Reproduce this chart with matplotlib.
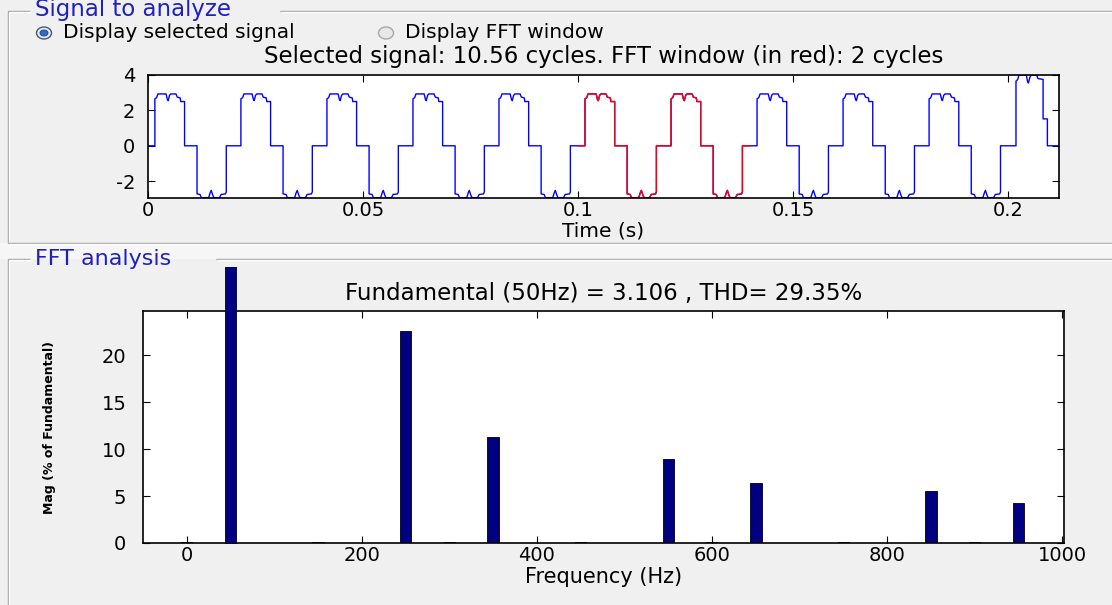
import numpy as np
import matplotlib
matplotlib.use("Agg")
import matplotlib.pyplot as plt
from matplotlib.patches import Ellipse, Rectangle
from matplotlib.transforms import Bbox, TransformedBbox

plt.rcParams['font.family'] = ['DejaVu Sans']
plt.rcParams['axes.unicode_minus'] = False

# ---- signal: one cycle (50 Hz), relative to cycle start ----
cycle_t = [0.0, 0.0016, 0.0016, 0.0020, 0.0023, 0.0042, 0.0045, 0.0047, 0.0050, 0.0053,
           0.0065, 0.0068, 0.0075, 0.0076, 0.0085, 0.0085,
           0.0114, 0.0114, 0.0121, 0.0124, 0.0141, 0.0145, 0.0147, 0.0150, 0.0153,
           0.0166, 0.0170, 0.0180, 0.0182, 0.0182, 0.0200]
cycle_v = [0.0, 0.0, 2.65, 2.72, 2.93, 2.93, 2.62, 2.55, 2.85, 2.93,
           2.93, 2.75, 2.70, 2.50, 2.50, 0.0,
           0.0, -2.72, -2.75, -2.93, -2.93, -2.62, -2.52, -2.75, -2.93,
           -2.93, -2.75, -2.72, -2.60, 0.0, 0.0]
cycle_starts = [0.0, 0.02, 0.04, 0.06, 0.08, 0.10, 0.12, 0.14, 0.16, 0.18]
red_starts = [0.10, 0.12]          # FFT window: 2 cycles

# last (partial) cycle has a larger amplitude
last_t = [0.2000, 0.2018, 0.2018, 0.2022, 0.2025, 0.2042, 0.2045, 0.2047, 0.2050, 0.2053,
          0.2066, 0.2069, 0.2081, 0.2081, 0.2091, 0.2091, 0.2118]
last_v = [0.0, 0.0, 3.65, 3.75, 4.0, 4.0, 3.62, 3.55, 3.85, 4.0,
          4.0, 3.80, 3.75, 1.52, 1.52, 0.0, 0.0]

# ---- FFT harmonics (% of fundamental) ----
harm_freq = [0, 50, 150, 250, 300, 350, 450, 550, 600, 650, 750, 850, 900, 950]
harm_mag = [0.1, 100, 0.15, 22.6, 0.12, 11.25, 0.12, 8.9, 0.12, 6.37, 0.12, 5.5, 0.12, 4.3]

top_title = "Selected signal: 10.56 cycles. FFT window (in red): 2 cycles"
fft_title = "Fundamental (50Hz) = 3.106 , THD= 29.35%"

W, H = 1112, 605
BG = '#f0f0f0'
BLUE_TXT = '#2020c0'

fig = plt.figure(figsize=(W / 100, H / 100), dpi=100, facecolor=BG)

# background layer in pixel coordinates (panels, radio buttons)
bg = fig.add_axes([0, 0, 1, 1], zorder=0)
bg.set_xlim(0, W)
bg.set_ylim(H, 0)
bg.axis('off')

bg.add_patch(Rectangle((0, 243), W, 16, color='#f6f6f6', lw=0))


def etched(xs, ys):
    bg.plot(xs, ys, color='#a0a0a0', lw=1.0, solid_capstyle='butt')
    bg.plot(np.array(xs) + 1.2, np.array(ys) + 1.2, color='white', lw=1.0, solid_capstyle='butt')


# top panel frame
etched([8, 8], [11, 243])
etched([8, 30], [11, 11])
etched([280, W], [11, 11])
etched([8, W], [243, 243])
bg.text(35, 16, "Signal to analyze", color=BLUE_TXT, fontsize=16.5, va='baseline', ha='left')

# FFT panel frame
etched([8, 8], [259, H])
etched([8, 30], [259, 259])
etched([216, W], [259, 259])
bg.text(35, 265, "FFT analysis", color=BLUE_TXT, fontsize=16, va='baseline', ha='left')

# radio buttons
bg.add_patch(Ellipse((44, 33), 15, 12, facecolor='#dfe8f3', edgecolor='#4a5a70', lw=1.0))
bg.add_patch(Ellipse((44, 33), 8, 6, facecolor='#2f6fc0', edgecolor='#1a3f80', lw=0.6))
bg.text(63, 33, "Display selected signal", fontsize=14.5, va='center', ha='left')
bg.add_patch(Ellipse((386, 33), 15, 12, facecolor='#e8e8e8', edgecolor='#a8a8a8', lw=1.0))
bg.text(405, 33, "Display FFT window", fontsize=14.5, va='center', ha='left')

# ---- top axes: time signal ----
ax1 = fig.add_axes([148 / W, 1 - 198 / H, 911 / W, 123 / H], zorder=1)
ax1.set_facecolor('white')

t_all, v_all = [], []
for s in cycle_starts:
    t_all += [s + t for t in cycle_t]
    v_all += cycle_v
t_all += last_t
v_all += last_v
ax1.plot(t_all, v_all, color='#0000ff', lw=1.0)

t_red, v_red = [], []
for s in red_starts:
    t_red += [s + t for t in cycle_t]
    v_red += cycle_v
ax1.plot(t_red, v_red, color='#ff0000', lw=1.0)

ax1.set_xlim(0, 0.2118)
ax1.set_ylim(-2.95, 4.0)
ax1.set_xticks([0, 0.05, 0.1, 0.15, 0.2])
ax1.set_xticklabels(['0', '0.05', '0.1', '0.15', '0.2'])
ax1.set_yticks([-2, 0, 2, 4])
ax1.tick_params(direction='in', top=True, right=True, length=5, labelsize=14)
ax1.tick_params(axis='x', pad=2)
ax1.tick_params(axis='y', pad=9)
ax1.set_title(top_title, fontsize=16.5, pad=9)
ax1.set_xlabel("Time (s)", fontsize=14.5)
ax1.xaxis.set_label_coords(0.5, -0.19)
for sp in ax1.spines.values():
    sp.set_linewidth(1.2)

# ---- FFT axes ----
ax2 = fig.add_axes([143 / W, 1 - 543 / H, 921 / W, 232 / H], zorder=1)
ax2.set_facecolor('white')
bars = ax2.bar(harm_freq, harm_mag, width=13, color='#000080', edgecolor='black', linewidth=0.6)

# the fundamental bar runs above the axes up to the panel title
fund = bars[harm_freq.index(50)]
fund.set_clip_path(None)
fund.set_clip_box(TransformedBbox(Bbox.from_extents(0, 0, 1, 1 - 267 / H), fig.transFigure))
fund.set_zorder(3)

ax2.set_xlim(-50, 1002)
ax2.set_ylim(0, 24.7)
ax2.set_xticks([0, 200, 400, 600, 800, 1000])
ax2.set_yticks([0, 5, 10, 15, 20])
ax2.tick_params(direction='in', top=True, right=True, length=5, labelsize=14)
ax2.tick_params(axis='x', pad=2)
ax2.tick_params(axis='y', pad=12)
ax2.set_title(fft_title, fontsize=16.5, pad=8)
ax2.set_xlabel("Frequency (Hz)", fontsize=15)
ax2.xaxis.set_label_coords(0.5, -0.105)
ax2.set_ylabel("Mag (% of Fundamental)", fontsize=9, fontweight='bold')
ax2.yaxis.set_label_coords(-0.095, 0.5)
for sp in ax2.spines.values():
    sp.set_linewidth(1.2)

fig.savefig("out.png", dpi=100, facecolor=BG)
